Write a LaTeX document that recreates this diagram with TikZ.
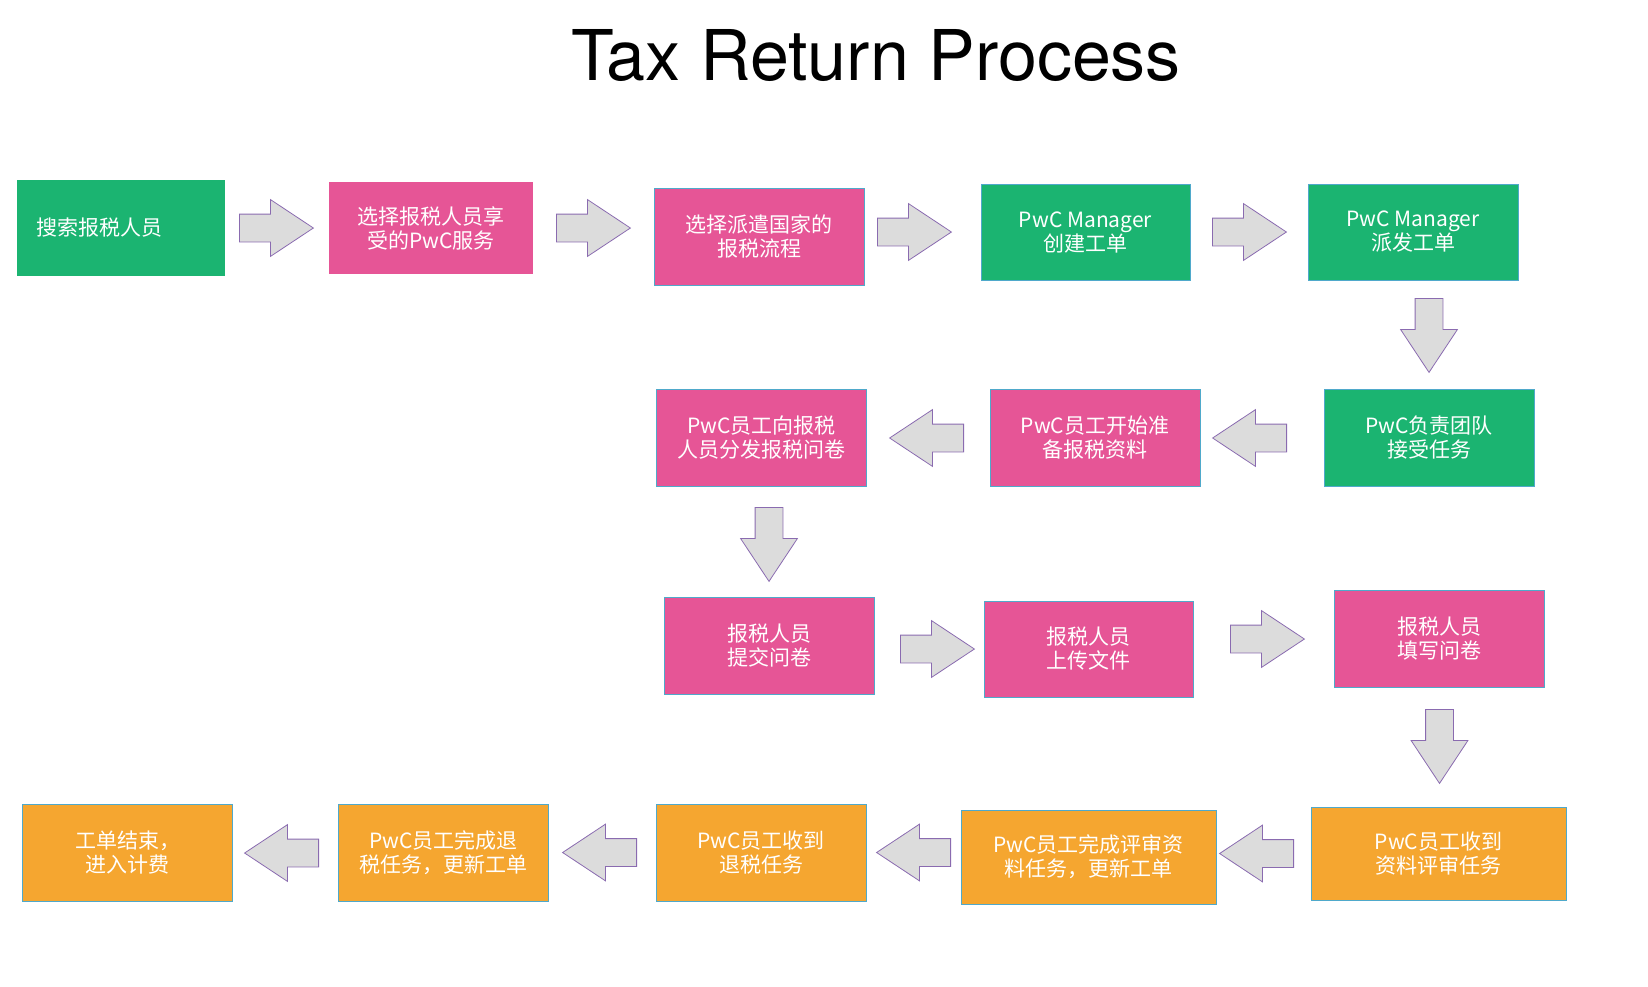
\documentclass[tikz,border=0pt]{standalone}
\usepackage{fontspec}
\setmainfont{TeX Gyre Heros}
\newfontfamily\cjk{Noto Sans CJK SC}
\usetikzlibrary{shapes.arrows}

\definecolor{stagegreen}{HTML}{1BB471}
\definecolor{stagepink}{HTML}{E65596}
\definecolor{stageorange}{HTML}{F5A630}
\definecolor{stageedge}{HTML}{4FA9CB}
\definecolor{arrowfill}{HTML}{DCDCDC}
\definecolor{arrowedge}{HTML}{8A6BB0}

\begin{document}
\begin{tikzpicture}[x=1pt,y=-1pt,inner sep=0pt]

  \tikzstyle{stage}=[rectangle,minimum width=210pt,minimum height=97pt,align=center,
                     text=white,font=\cjk\fontsize{21}{24}\selectfont,
                     draw=stageedge,line width=0.8pt]
  \tikzstyle{greenbox}=[stage,fill=stagegreen]
  \tikzstyle{pinkbox}=[stage,fill=stagepink]
  \tikzstyle{orangebox}=[stage,fill=stageorange]
  \tikzstyle{blockarrow}=[single arrow,anchor=tail,draw=arrowedge,fill=arrowfill,line width=0.8pt,
                          minimum height=74pt,inner sep=13.5pt,single arrow head extend=14.5pt,
                          single arrow tip angle=67,single arrow head indent=0pt]
  \tikzstyle{pointleft}=[blockarrow,rotate=180]
  \tikzstyle{pointdown}=[blockarrow,rotate=270]

  \useasboundingbox (0,0) rectangle (1648,986);

  \node[anchor=base,font=\fontsize{70}{80}\selectfont] (title) at (876,80) {Tax Return Process};

  \node[greenbox,draw=none,minimum width=208pt,minimum height=96pt,text width=170pt,align=left]
                      (search)  at (121,228)    {搜索报税人员};
  \node[pinkbox,draw=none,minimum width=204pt,minimum height=92pt]
                      (service) at (431,228)    {选择报税人员享\\受的PwC服务};
  \node[pinkbox]      (flow)    at (759,236.5)  {选择派遣国家的\\报税流程};
  \node[greenbox,minimum width=209pt,minimum height=96pt]
                      (create)  at (1085.5,232) {PwC Manager\\创建工单};
  \node[greenbox,minimum height=96pt]
                      (assign)  at (1413,232)   {PwC Manager\\派发工单};

  \node[greenbox]     (accept)  at (1429,437.5) {PwC负责团队\\接受任务};
  \node[pinkbox]      (prepare) at (1095,438)   {PwC员工开始准\\备报税资料};
  \node[pinkbox]      (send)    at (761.5,438)  {PwC员工向报税\\人员分发报税问卷};

  \node[pinkbox]      (submit)  at (769,645.5)  {报税人员\\提交问卷};
  \node[pinkbox,minimum width=209pt,minimum height=96pt]
                      (upload)  at (1088.5,649) {报税人员\\上传文件};
  \node[pinkbox]      (fill)    at (1439,638.5) {报税人员\\填写问卷};

  \node[orangebox,minimum width=255pt,minimum height=93pt]
                      (review)  at (1438.5,853.5) {PwC员工收到\\资料评审任务};
  \node[orangebox,minimum width=255pt,minimum height=94pt]
                      (reviewed) at (1088.5,857) {PwC员工完成评审资\\料任务，更新工单};
  \node[orangebox]    (refund)  at (761,852.5)  {PwC员工收到\\退税任务};
  \node[orangebox]    (refunded) at (443.5,852.5) {PwC员工完成退\\税任务，更新工单};
  \node[orangebox]    (close)   at (127.5,852.5) {工单结束，\\进入计费};

  \node[blockarrow] (search-service) at (239,228)   {};
  \node[blockarrow] (service-flow)   at (556,228)   {};
  \node[blockarrow] (flow-create)    at (877,232)   {};
  \node[blockarrow] (create-assign)  at (1212,232)  {};
  \node[pointdown]  (assign-accept)  at (1429,298)  {};
  \node[pointleft]  (accept-prepare) at (1287,438)  {};
  \node[pointleft]  (prepare-send)   at (964,438)   {};
  \node[pointdown]  (send-submit)    at (769,507)   {};
  \node[blockarrow] (submit-upload)  at (900,649)   {};
  \node[blockarrow] (upload-fill)    at (1230,639)  {};
  \node[pointdown]  (fill-review)    at (1439.5,709) {};
  \node[pointleft]  (review-reviewed) at (1294,853.5) {};
  \node[pointleft]  (reviewed-refund) at (951,852.5) {};
  \node[pointleft]  (refund-refunded) at (637,852.5) {};
  \node[pointleft]  (refunded-close) at (319,853)   {};
\end{tikzpicture}
\end{document}
